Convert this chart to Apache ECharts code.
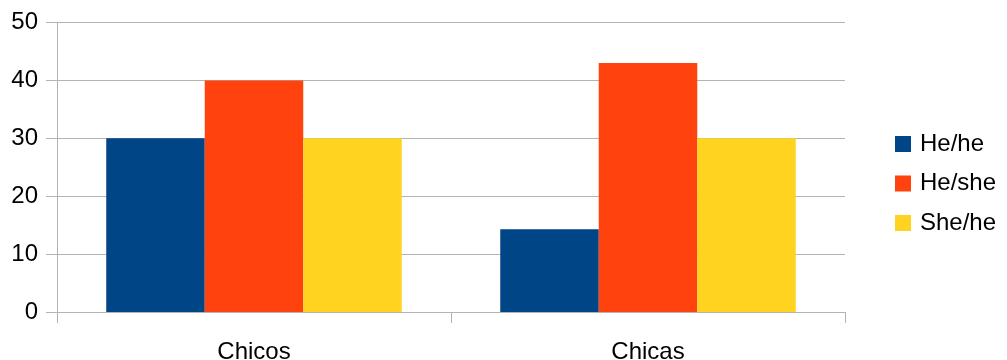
<!DOCTYPE html>
<html><head><meta charset="utf-8">
<script src="https://cdn.jsdelivr.net/npm/echarts@6/dist/echarts.min.js"></script>
<style>html,body{margin:0;padding:0;background:#fff}#c{width:1007px;height:360px}</style>
</head><body><div id="c"></div>
<script>
const categories = ["Chicos", "Chicas"];
const heHe = [30, 14.3];
const heShe = [40, 43];
const sheHe = [30, 30];
const seriesNames = ["He/he", "He/she", "She/he"];
const colors = ["#004586", "#ff420e", "#ffd320"];

const chart = echarts.init(document.getElementById('c'), null, {renderer: 'canvas'});
const font = 'Liberation Sans, Arial, sans-serif';
const mk = (name, data, color) => ({
  name, type: 'bar', data, barGap: '0%', barCategoryGap: '25%',
  itemStyle: {color}, emphasis: {disabled: true}
});
const tickStyle = {color: '#b3b3b3', width: 1};
chart.setOption({
  animation: false,
  textStyle: {fontFamily: font},
  grid: {left: 57, right: 162, top: 22.5, bottom: 48, containLabel: false, outerBoundsMode: 'none'},
  legend: {
    orient: 'vertical', left: 890, top: 127,
    itemWidth: 16, itemHeight: 16, itemGap: 15.5, icon: 'rect',
    textStyle: {fontSize: 24, color: '#000', fontFamily: font, padding: [0,0,0,4]},
    data: seriesNames
  },
  xAxis: {
    type: 'category', data: categories,
    axisLine: {show: true, lineStyle: tickStyle},
    axisTick: {show: true, inside: false, length: 11, lineStyle: tickStyle},
    axisLabel: {fontSize: 24, color: '#000', margin: 28}
  },
  yAxis: [{
    type: 'value', min: 0, max: 50, interval: 10, position: 'left',
    axisLine: {show: true, onZero: false, lineStyle: tickStyle},
    axisTick: {show: true, inside: false, length: 11, lineStyle: tickStyle},
    splitLine: {show: true, lineStyle: tickStyle},
    axisLabel: {fontSize: 24, color: '#000', margin: 19}
  }, {
    type: 'value', min: 0, max: 50, interval: 10, position: 'left', offset: 0,
    axisLine: {show: false},
    axisTick: {show: true, inside: false, length: 11, lineStyle: tickStyle},
    splitLine: {show: false},
    axisLabel: {show: false}
  }],
  series: [mk(seriesNames[0], heHe, colors[0]), mk(seriesNames[1], heShe, colors[1]), mk(seriesNames[2], sheHe, colors[2])]
});
</script></body></html>
